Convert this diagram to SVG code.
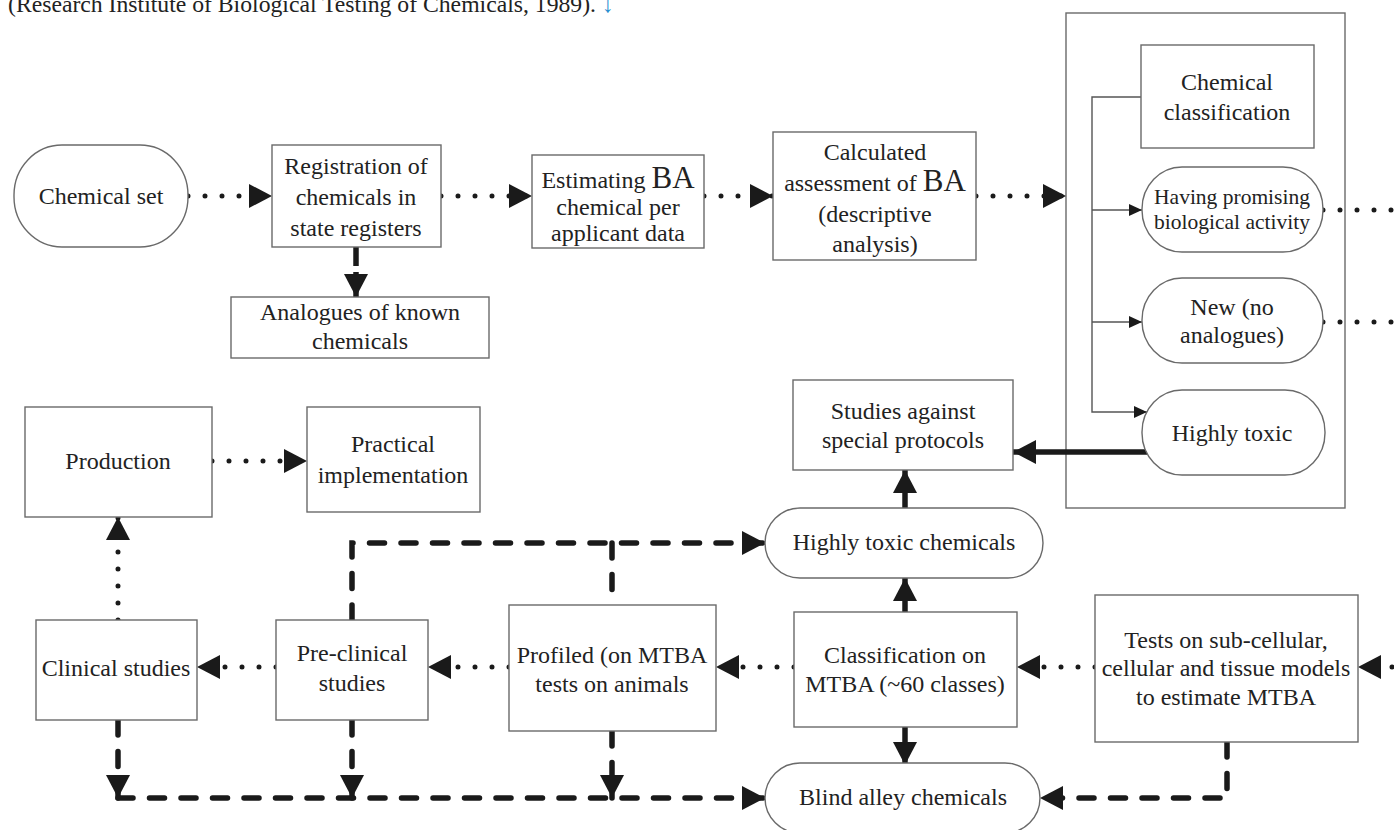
<svg xmlns="http://www.w3.org/2000/svg" width="1394" height="830" viewBox="0 0 1394 830">
<defs>
<style>
.box{fill:#fff;stroke:#6a6a6a;stroke-width:1.4}
.t{font-family:"Liberation Serif","Times New Roman",serif;font-size:24px;fill:#222;text-anchor:middle}
.ts{font-size:21.5px}
.big{font-size:31px}
.dot{fill:none;stroke:#1a1a1a;stroke-width:5;stroke-linecap:round;stroke-dasharray:0 17}
.dash{fill:none;stroke:#1a1a1a;stroke-width:5.5;stroke-linecap:round;stroke-dasharray:15 16.5}
.thick{fill:none;stroke:#1a1a1a;stroke-width:5.5}
.thin{fill:none;stroke:#555;stroke-width:1.4}
</style>
<marker id="ah" markerUnits="userSpaceOnUse" markerWidth="24" markerHeight="24" refX="23" refY="12" orient="auto"><path d="M0,0 L23,12 L0,24 z" fill="#1a1a1a"/></marker>
<marker id="as" markerUnits="userSpaceOnUse" markerWidth="14" markerHeight="12" refX="13" refY="6" orient="auto"><path d="M0,0 L13,6 L0,12 z" fill="#1a1a1a"/></marker>
</defs>
<rect width="1394" height="830" fill="#fff"/>
<text x="8" y="12" class="t" style="text-anchor:start" textLength="588" lengthAdjust="spacingAndGlyphs">(Research Institute of Biological Testing of Chemicals, 1989).</text>
<text x="602" y="12" class="t" style="text-anchor:start;fill:#2a8fd0">↓</text>

<g id="container"><rect class="box" x="1066" y="13" width="279" height="495"/></g>

<g id="connectors">
<path class="dot" d="M188,196 H272" marker-end="url(#ah)"/>
<path class="dot" d="M441,196 H532" marker-end="url(#ah)"/>
<path class="dot" d="M704,196 H773" marker-end="url(#ah)"/>
<path class="dot" d="M976,196 H1066" marker-end="url(#ah)"/>
<path class="thick" d="M356,247 V266"/>
<path class="thick" d="M356,272 V297" marker-end="url(#ah)"/>
<path class="thin" d="M1141,97 H1092 V412 H1147" marker-end="url(#as)"/>
<path class="thin" d="M1092,210 H1142" marker-end="url(#as)"/>
<path class="thin" d="M1092,322 H1142" marker-end="url(#as)"/>
<path class="dot" d="M1323,210 H1394"/>
<path class="dot" d="M1323,322 H1394"/>
<path class="thick" d="M1147,452 H1013" marker-end="url(#ah)"/>
<path class="thick" d="M905,508 V470" marker-end="url(#ah)"/>
<path class="thick" d="M905,612 V578" marker-end="url(#ah)"/>
<path class="thick" d="M905,727 V765" marker-end="url(#ah)"/>
<path class="dot" d="M1409,667 H1358" marker-end="url(#ah)"/>
<path class="dot" d="M1095,667 H1017" marker-end="url(#ah)"/>
<path class="dot" d="M794,667 H716" marker-end="url(#ah)"/>
<path class="dot" d="M509,667 H428" marker-end="url(#ah)"/>
<path class="dot" d="M276,667 H197" marker-end="url(#ah)"/>
<path class="dot" d="M118,620 V517" marker-end="url(#ah)"/>
<path class="dot" d="M212,461 H307" marker-end="url(#ah)"/>
<path class="dash" d="M352,620 V543 H765" marker-end="url(#ah)"/>
<path class="dash" d="M612,543 V605"/>
<path class="dash" d="M118,720 V798" marker-end="url(#ah)"/>
<path class="dash" d="M352,720 V798" marker-end="url(#ah)"/>
<path class="dash" d="M612,731 V798" marker-end="url(#ah)"/>
<path class="dash" d="M118,798 H765" marker-end="url(#ah)"/>
<path class="dash" d="M1227,742 V798 H1040" marker-end="url(#ah)"/>
</g>

<g id="chemical-set"><rect class="box" x="14" y="145" width="174" height="102" rx="48" ry="50"/>
<text class="t" x="101" y="204">Chemical set</text></g>

<g id="registration"><rect class="box" x="272" y="145" width="169" height="102"/>
<text class="t" x="356" y="174">Registration of</text>
<text class="t" x="356" y="205">chemicals in</text>
<text class="t" x="356" y="236">state registers</text></g>

<g id="analogues"><rect class="box" x="231" y="297" width="258" height="61"/>
<text class="t" x="360" y="320">Analogues of known</text>
<text class="t" x="360" y="349">chemicals</text></g>

<g id="estimating"><rect class="box" x="532" y="155" width="172" height="93"/>
<text class="t" x="618" y="188">Estimating <tspan class="big">BA</tspan></text>
<text class="t" x="618" y="215">chemical per</text>
<text class="t" x="618" y="241">applicant data</text></g>

<g id="calculated"><rect class="box" x="773" y="132" width="203" height="128"/>
<text class="t" x="875" y="160">Calculated</text>
<text class="t" x="875" y="191">assessment of <tspan class="big">BA</tspan></text>
<text class="t" x="875" y="222">(descriptive</text>
<text class="t" x="875" y="252">analysis)</text></g>

<g id="chemical-classification"><rect class="box" x="1141" y="45" width="173" height="103"/>
<text class="t" x="1227" y="90">Chemical</text>
<text class="t" x="1227" y="120">classification</text></g>

<g id="promising"><rect class="box" x="1142" y="167" width="181" height="85" rx="40" ry="42"/>
<text class="t ts" x="1232" y="204">Having promising</text>
<text class="t ts" x="1232" y="229">biological activity</text></g>

<g id="new"><rect class="box" x="1142" y="278" width="181" height="85" rx="40" ry="42"/>
<text class="t" x="1232" y="315">New (no</text>
<text class="t" x="1232" y="343">analogues)</text></g>

<g id="highly-toxic"><rect class="box" x="1142" y="390" width="183" height="85" rx="40" ry="42"/>
<text class="t" x="1232" y="441">Highly toxic</text></g>

<g id="studies"><rect class="box" x="793" y="380" width="220" height="90"/>
<text class="t" x="903" y="419">Studies against</text>
<text class="t" x="903" y="448">special protocols</text></g>

<g id="production"><rect class="box" x="25" y="407" width="187" height="110"/>
<text class="t" x="118" y="469">Production</text></g>

<g id="practical"><rect class="box" x="307" y="407" width="173" height="105"/>
<text class="t" x="393" y="452">Practical</text>
<text class="t" x="393" y="483">implementation</text></g>

<g id="highly-toxic-chemicals"><rect class="box" x="765" y="508" width="278" height="70" rx="35" ry="35"/>
<text class="t" x="904" y="550">Highly toxic chemicals</text></g>

<g id="clinical"><rect class="box" x="36" y="620" width="161" height="100"/>
<text class="t" x="116" y="676">Clinical studies</text></g>

<g id="pre-clinical"><rect class="box" x="276" y="620" width="152" height="100"/>
<text class="t" x="352" y="661">Pre-clinical</text>
<text class="t" x="352" y="691">studies</text></g>

<g id="profiled"><rect class="box" x="509" y="605" width="207" height="126"/>
<text class="t" x="612" y="663">Profiled (on MTBA</text>
<text class="t" x="612" y="692">tests on animals</text></g>

<g id="classification-mtba"><rect class="box" x="794" y="612" width="223" height="115"/>
<text class="t" x="905" y="663">Classification on</text>
<text class="t" x="905" y="692">MTBA (~60 classes)</text></g>

<g id="tests"><rect class="box" x="1095" y="595" width="263" height="147"/>
<text class="t" x="1226" y="648">Tests on sub-cellular,</text>
<text class="t" x="1226" y="676">cellular and tissue models</text>
<text class="t" x="1226" y="705">to estimate MTBA</text></g>

<g id="blind-alley"><rect class="box" x="765" y="763" width="275" height="70" rx="35" ry="35"/>
<text class="t" x="903" y="805">Blind alley chemicals</text></g>
</svg>
